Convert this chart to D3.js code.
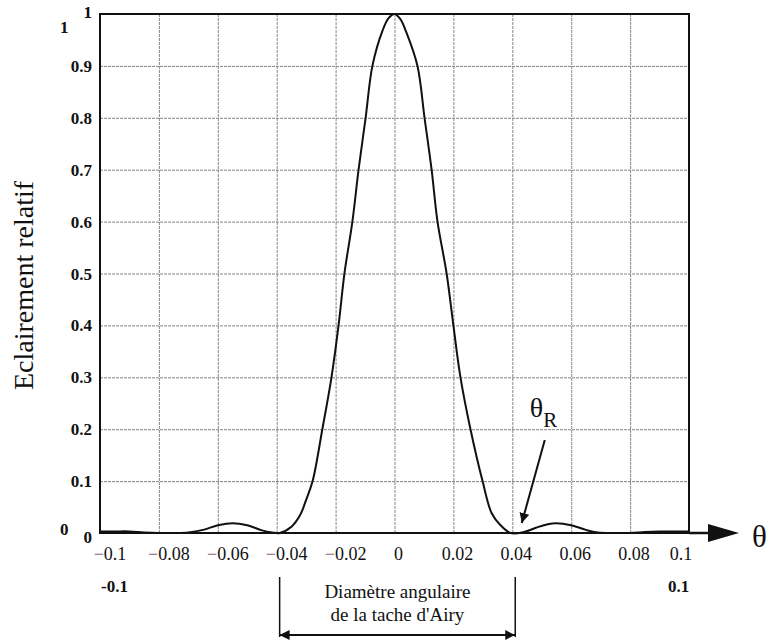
<!DOCTYPE html>
<html lang="fr">
<head>
  <meta charset="UTF-8">
  <title>Tache d'Airy</title>
  <style>
    html, body { margin: 0; background: #fff; }
    svg { display: block; }
  </style>
</head>
<body>
  <svg id="chart" width="771" height="644" font-family="'Liberation Serif', 'DejaVu Serif', serif"></svg>

  <script src="https://cdnjs.cloudflare.com/ajax/libs/d3/7.8.5/d3.min.js"></script>
  <script>
    // values
    const theta = [
      -0.100, -0.095, -0.090, -0.085, -0.080, -0.075, -0.070, -0.065, -0.060, -0.055,
      -0.050, -0.045, -0.0415, -0.039, -0.035, -0.032, -0.030, -0.0278, -0.0245, -0.0214,
      -0.019, -0.017, -0.0143, -0.0122, -0.0098, -0.0075, -0.004, -0.002, 0,
      0.002, 0.004, 0.0078, 0.0102, 0.0126, 0.0146, 0.0177, 0.020, 0.0224, 0.0258,
      0.0299, 0.033, 0.036, 0.0394, 0.044, 0.048, 0.052, 0.055, 0.060, 0.065,
      0.069, 0.075, 0.080, 0.085, 0.090, 0.095, 0.100
    ];
    const eclairement = [
      0.003, 0.003, 0.003, 0.001, 0.000, 0.000, 0.001, 0.006, 0.015, 0.019,
      0.015, 0.005, 0.001, 0.000, 0.012, 0.035, 0.064, 0.100, 0.200, 0.300,
      0.400, 0.500, 0.600, 0.700, 0.800, 0.900, 0.969, 0.992, 1.000,
      0.990, 0.965, 0.900, 0.800, 0.700, 0.600, 0.500, 0.400, 0.300, 0.200,
      0.100, 0.038, 0.015, 0.000, 0.002, 0.010, 0.017, 0.019, 0.015, 0.006,
      0.001, 0.000, 0.000, 0.002, 0.003, 0.003, 0.003
    ];
    const xTicks = [-0.1, -0.08, -0.06, -0.04, -0.02, 0, 0.02, 0.04, 0.06, 0.08, 0.1];
    const xTickLabels = ['0.1', '0.08', '0.06', '0.04', '0.02', '0', '0.02', '0.04', '0.06', '0.08', '0.1'];
    const yTicks = [0, 0.1, 0.2, 0.3, 0.4, 0.5, 0.6, 0.7, 0.8, 0.9, 1];
    const yTickLabels = ['0', '0.1', '0.2', '0.3', '0.4', '0.5', '0.6', '0.7', '0.8', '0.9', '1'];
    const airyEdges = [-0.039, 0.041];
    const thetaR = 0.0405;

    const margin = { top: 14, right: 82, bottom: 111, left: 100 };
    const width = 771 - margin.left - margin.right;
    const height = 644 - margin.top - margin.bottom;
    const ink = '#111';

    const svg = d3.select('#chart');
    const g = svg.append('g').attr('transform', `translate(${margin.left},${margin.top})`);

    const x = d3.scaleLinear().domain([-0.1, 0.1]).range([0, width]);
    const y = d3.scaleLinear().domain([0, 1]).range([height, 0]);

    svg.append('defs').append('marker')
      .attr('id', 'head')
      .attr('viewBox', '0 0 10 10')
      .attr('refX', 10).attr('refY', 5)
      .attr('markerWidth', 10).attr('markerHeight', 10)
      .attr('markerUnits', 'userSpaceOnUse')
      .attr('orient', 'auto-start-reverse')
      .append('path').attr('d', 'M0,0L10,5L0,10z').attr('fill', ink);

    // grid
    g.append('g')
      .attr('transform', `translate(0,${height})`)
      .call(d3.axisBottom(x).tickValues(xTicks.slice(1, -1)).tickSize(-height).tickFormat(''))
      .call(s => s.select('.domain').remove())
      .selectAll('line').attr('stroke', '#85858f').attr('stroke-width', 1).attr('stroke-dasharray', '3,1');
    g.append('g')
      .call(d3.axisLeft(y).tickValues(yTicks.slice(1, -1)).tickSize(-width).tickFormat(''))
      .call(s => s.select('.domain').remove())
      .selectAll('line').attr('stroke', '#86857f').attr('stroke-width', 1).attr('stroke-dasharray', '3,1');

    // frame
    g.append('rect')
      .attr('width', width).attr('height', height)
      .attr('fill', 'none').attr('stroke', ink).attr('stroke-width', 2);

    // curve
    const points = theta.map((t, i) => [t, eclairement[i]]);
    g.append('path')
      .datum(points)
      .attr('fill', 'none')
      .attr('stroke', ink)
      .attr('stroke-width', 2)
      .attr('d', d3.line().x(d => x(d[0])).y(d => y(d[1])).curve(d3.curveCatmullRom.alpha(0.5)));

    // y tick labels
    g.selectAll('.ylab')
      .data(yTicks)
      .join('text')
      .attr('class', 'ylab')
      .attr('x', -8)
      .attr('y', d => y(d) + (d === 0 ? 10 : d === 1 ? 4 : 6))
      .attr('text-anchor', 'end')
      .attr('font-size', 17)
      .attr('font-weight', 'bold')
      .attr('fill', ink)
      .text((d, i) => yTickLabels[i]);
    // duplicated end labels
    g.append('text').attr('x', -40).attr('y', y(1) + 19).attr('font-size', 17).attr('font-weight', 'bold').attr('fill', ink).text(yTickLabels[10]);
    g.append('text').attr('x', -40).attr('y', y(0) + 2).attr('font-size', 17).attr('font-weight', 'bold').attr('fill', ink).text(yTickLabels[0]);

    // x tick labels
    const xl = g.selectAll('.xlab')
      .data(xTicks)
      .join('text')
      .attr('class', 'xlab')
      .attr('x', d => x(d) + (d < 0 ? 10 : d === 0.1 ? -8 : 4))
      .attr('y', height + 27)
      .attr('text-anchor', 'middle')
      .attr('font-size', 18)
      .attr('fill', ink);
    xl.filter(d => d < 0).append('tspan').attr('fill', '#8a6a80').text('\u2212');
    xl.append('tspan').text((d, i) => xTickLabels[i]);

    g.append('text').attr('x', x(-0.1) + 1).attr('y', height + 59).attr('font-size', 17).attr('font-weight', 'bold').attr('fill', ink).text('-' + xTickLabels[0]);
    g.append('text').attr('x', x(0.1) - 21).attr('y', height + 59).attr('font-size', 17).attr('font-weight', 'bold').attr('fill', ink).text(xTickLabels[10]);

    // theta axis arrow
    g.append('line')
      .attr('x1', width).attr('x2', width + 40)
      .attr('y1', height).attr('y2', height)
      .attr('stroke', ink).attr('stroke-width', 2.5);
    g.append('path')
      .attr('d', `M${width + 19},${height - 9}L${width + 50},${height}L${width + 19},${height + 9}z`)
      .attr('fill', ink);
    g.append('text')
      .attr('x', width + 63).attr('y', height + 14)
      .attr('font-size', 31)
      .attr('fill', ink)
      .text('\u03b8');

    // theta_R annotation
    const tr = g.append('text').attr('x', x(thetaR) + 16).attr('y', 403).attr('font-size', 28).attr('fill', ink);
    tr.append('tspan').text('\u03b8');
    tr.append('tspan').attr('font-size', 21).attr('dy', 10).text('R');
    g.append('line')
      .attr('x1', x(thetaR) + 31).attr('y1', 426)
      .attr('x2', x(thetaR) + 8).attr('y2', height - 10)
      .attr('stroke', ink).attr('stroke-width', 2)
      .attr('marker-end', 'url(#head)');

    // Airy diameter bracket
    const bracketY = height + 102;
    g.selectAll('.edge')
      .data(airyEdges)
      .join('line')
      .attr('class', 'edge')
      .attr('x1', d => x(d)).attr('x2', d => x(d))
      .attr('y1', height + 44).attr('y2', bracketY + 2)
      .attr('stroke', ink).attr('stroke-width', 1.5);
    g.append('line')
      .attr('x1', x(airyEdges[0])).attr('x2', x(airyEdges[1]))
      .attr('y1', bracketY).attr('y2', bracketY)
      .attr('stroke', ink).attr('stroke-width', 2)
      .attr('marker-start', 'url(#head)')
      .attr('marker-end', 'url(#head)');
    const mid = (x(airyEdges[0]) + x(airyEdges[1])) / 2;
    g.append('text').attr('x', mid).attr('y', height + 65).attr('text-anchor', 'middle').attr('font-size', 19).attr('fill', ink).text('Diamètre angulaire');
    g.append('text').attr('x', mid).attr('y', height + 88).attr('text-anchor', 'middle').attr('font-size', 19).attr('fill', ink).text("de la tache d'Airy");

    // y axis title
    svg.append('text')
      .attr('transform', `translate(33,${margin.top + height / 2 + 12}) rotate(-90)`)
      .attr('text-anchor', 'middle')
      .attr('font-size', 28)
      .attr('fill', ink)
      .text('Eclairement relatif');
  </script>
</body>
</html>
